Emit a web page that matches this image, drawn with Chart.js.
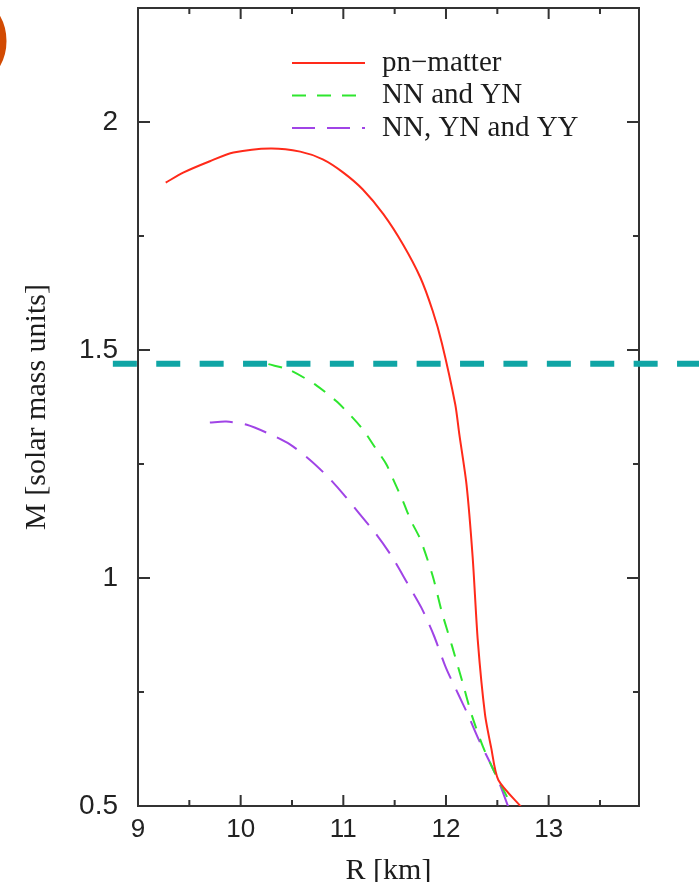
<!DOCTYPE html>
<html>
<head>
<meta charset="utf-8">
<script src="https://cdn.jsdelivr.net/npm/chart.js@4.4.1/dist/chart.umd.min.js"></script>
<style>
  html, body { margin: 0; padding: 0; background: #ffffff; }
  canvas { display: block; }
</style>
</head>
<body>
<canvas id="mr" width="699" height="882"></canvas>
<script>
// Neutron-star mass–radius curves: radius R [km] and mass M [solar masses]
const pnR = [9.27, 9.44, 9.70, 9.93, 10.29, 10.58, 10.80, 11.00, 11.19, 11.39, 11.58, 11.75, 11.87, 11.96, 12.09, 12.13, 12.20, 12.26, 12.31, 12.38, 12.44, 12.51, 12.74];
const pnM = [1.867, 1.889, 1.914, 1.933, 1.942, 1.935, 1.918, 1.889, 1.852, 1.798, 1.732, 1.659, 1.586, 1.515, 1.381, 1.315, 1.205, 1.045, 0.862, 0.701, 0.628, 0.557, 0.496];

const nnynR = [10.27, 10.48, 10.74, 10.93, 11.06, 11.19, 11.31, 11.42, 11.50, 11.58, 11.66, 11.75, 11.87, 11.96, 12.06, 12.16, 12.25, 12.36, 12.45, 12.52, 12.65];
const nnynM = [1.469, 1.456, 1.422, 1.388, 1.359, 1.326, 1.286, 1.249, 1.209, 1.169, 1.125, 1.085, 1.005, 0.925, 0.850, 0.772, 0.700, 0.630, 0.585, 0.553, 0.496];

const nnynyyR = [9.70, 9.86, 10.06, 10.29, 10.48, 10.67, 10.84, 11.00, 11.16, 11.32, 11.47, 11.62, 11.76, 11.88, 12.00, 12.12, 12.21, 12.32, 12.44, 12.52, 12.61];
const nnynyyM = [1.341, 1.343, 1.336, 1.315, 1.293, 1.260, 1.224, 1.184, 1.140, 1.096, 1.048, 0.990, 0.935, 0.875, 0.803, 0.745, 0.702, 0.645, 0.590, 0.550, 0.496];

// Horizontal reference mass level
const refMass = 1.47;
const refSpan = [8.755, 14.6];

// Axis tick values (labels on integers / half-integers)
const xTicks = [9, 9.5, 10, 10.5, 11, 11.5, 12, 12.5, 13, 13.5];
const yTicks = [0.5, 0.75, 1, 1.25, 1.5, 1.75, 2, 2.25];

const seriesLabels = ['pn\u2212matter', 'NN and YN', 'NN, YN and YY'];

const toPoints = (rs, ms) => rs.map((r, i) => ({ x: r, y: ms[i] }));

// Frame and inward tick marks on all four sides
const frameTicks = {
  id: 'frameTicks',
  beforeDatasetsDraw(chart) {
    const { ctx, chartArea: a, scales: { x, y } } = chart;
    ctx.save();
    ctx.strokeStyle = '#333333';
    ctx.lineWidth = 2;
    ctx.strokeRect(a.left, a.top, a.right - a.left, a.bottom - a.top);
    ctx.beginPath();
    x.ticks.forEach(t => {
      const px = x.getPixelForValue(t.value);
      const len = Number.isInteger(t.value) ? 11 : 6;
      ctx.moveTo(px, a.bottom); ctx.lineTo(px, a.bottom - len);
      ctx.moveTo(px, a.top); ctx.lineTo(px, a.top + len);
    });
    y.ticks.forEach(t => {
      const py = y.getPixelForValue(t.value);
      const len = Math.abs(t.value * 2 - Math.round(t.value * 2)) < 1e-6 ? 12 : 6;
      ctx.moveTo(a.left, py); ctx.lineTo(a.left + len, py);
      ctx.moveTo(a.right, py); ctx.lineTo(a.right - len, py);
    });
    ctx.stroke();
    ctx.restore();
  }
};

// Key drawn inside the plot, upper right
const insideLegend = {
  id: 'insideLegend',
  afterDatasetsDraw(chart) {
    const { ctx, chartArea: a } = chart;
    const items = chart.data.datasets.filter(d => d.label);
    ctx.save();
    items.forEach((d, i) => {
      const yy = a.top + 55 + i * 32.5;
      ctx.strokeStyle = d.borderColor;
      ctx.lineWidth = d.borderWidth;
      ctx.setLineDash(d.borderDash || []);
      ctx.beginPath();
      ctx.moveTo(a.right - 347, yy);
      ctx.lineTo(a.right - 274, yy);
      ctx.stroke();
      ctx.setLineDash([]);
      ctx.fillStyle = '#1c1c1c';
      ctx.font = '29px "Liberation Serif", "Times New Roman", serif';
      ctx.textAlign = 'left';
      ctx.textBaseline = 'middle';
      ctx.fillText(d.label, a.right - 257, yy);
    });
    ctx.restore();
  }
};

// Orange ring marker at the top-left edge
const cornerRing = {
  id: 'cornerRing',
  afterDraw(chart) {
    const { ctx } = chart;
    ctx.save();
    ctx.strokeStyle = '#d24a02';
    ctx.lineWidth = 7;
    ctx.beginPath();
    ctx.arc(-45, 41, 48, 0, Math.PI * 2);
    ctx.stroke();
    ctx.restore();
  }
};

const tickFont = { family: '"Liberation Sans", Arial, sans-serif' };

new Chart(document.getElementById('mr'), {
  type: 'line',
  data: {
    datasets: [
      {
        label: seriesLabels[0],
        data: toPoints(pnR, pnM),
        borderColor: '#ff2a1a',
        borderWidth: 2,
        pointRadius: 0,
        tension: 0.25
      },
      {
        label: seriesLabels[1],
        data: toPoints(nnynR, nnynM),
        borderColor: '#2ee62e',
        borderWidth: 2,
        borderDash: [14, 11],
        pointRadius: 0,
        tension: 0.25
      },
      {
        label: seriesLabels[2],
        data: toPoints(nnynyyR, nnynyyM),
        borderColor: '#a044e6',
        borderWidth: 2,
        borderDash: [23, 12],
        pointRadius: 0,
        tension: 0.25
      },
      {
        label: '',
        data: refSpan.map(r => ({ x: r, y: refMass })),
        borderColor: '#10a5a5',
        borderWidth: 6,
        borderDash: [24, 19.4],
        borderCapStyle: 'butt',
        pointRadius: 0,
        clip: false
      }
    ]
  },
  options: {
    responsive: false,
    animation: false,
    events: [],
    layout: { padding: { top: 8, right: 60, bottom: 0, left: 0 } },
    plugins: {
      legend: { display: false },
      tooltip: { enabled: false }
    },
    scales: {
      x: {
        type: 'linear',
        min: 9,
        max: 13.88,
        afterBuildTicks: s => { s.ticks = xTicks.map(v => ({ value: v })); },
        afterFit: s => { s.height = 76; s.paddingLeft = 0; s.paddingRight = 0; },
        grid: { display: false, drawTicks: false },
        border: { display: false },
        ticks: {
          autoSkip: false,
          maxRotation: 0,
          padding: 8,
          color: '#222222',
          font: { ...tickFont, size: 26 },
          callback: v => Number.isInteger(v) ? String(v) : ''
        },
        title: {
          display: true,
          text: 'R [km]',
          color: '#1c1c1c',
          font: { family: '"Liberation Serif", "Times New Roman", serif', size: 30, lineHeight: 0.75 },
          padding: { top: 0, bottom: 0 }
        }
      },
      y: {
        type: 'linear',
        min: 0.5,
        max: 2.25,
        afterBuildTicks: s => { s.ticks = yTicks.map(v => ({ value: v })); },
        afterFit: s => { s.width = 138; s.paddingTop = 0; s.paddingBottom = 0; },
        grid: { display: false, drawTicks: false },
        border: { display: false },
        ticks: {
          autoSkip: false,
          padding: 20,
          color: '#222222',
          font: { ...tickFont, size: 28 },
          callback: v => Math.abs(v * 2 - Math.round(v * 2)) < 1e-6 ? String(v) : ''
        },
        title: {
          display: true,
          text: 'M [solar mass units]',
          color: '#1c1c1c',
          font: { family: '"Liberation Serif", "Times New Roman", serif', size: 30 },
          padding: { top: 19, bottom: 0 }
        }
      }
    }
  },
  plugins: [frameTicks, insideLegend, cornerRing]
});
</script>
</body>
</html>
